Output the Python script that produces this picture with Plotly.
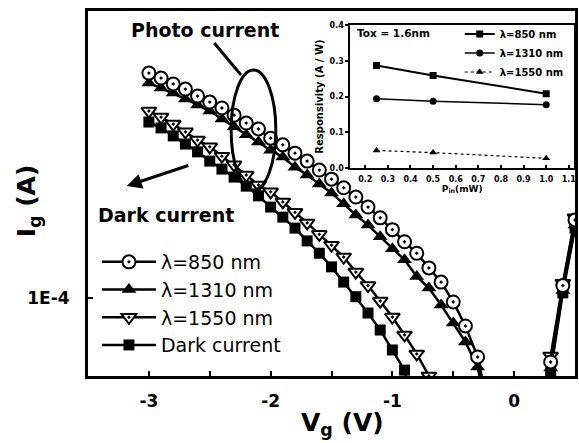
import plotly.graph_objects as go

# ---------------- main plot data (gate current vs gate voltage) ----------------
V_850 = [-3.0, -2.9, -2.8, -2.7, -2.6, -2.5, -2.4, -2.3, -2.2, -2.1, -2.0, -1.9, -1.8, -1.7,
         -1.6, -1.5, -1.4, -1.3, -1.2, -1.1, -1.0, -0.9, -0.8, -0.7, -0.6, -0.5, -0.4, -0.3,
         -0.2, 0.2, 0.3, 0.4, 0.5]
I_850 = [5.62e-4, 5.41e-4, 5.17e-4, 4.97e-4, 4.71e-4, 4.50e-4, 4.30e-4, 4.07e-4, 3.83e-4, 3.66e-4,
         3.41e-4, 3.24e-4, 3.04e-4, 2.86e-4, 2.67e-4, 2.49e-4, 2.33e-4, 2.17e-4, 2.01e-4, 1.85e-4,
         1.69e-4, 1.54e-4, 1.41e-4, 1.26e-4, 1.13e-4, 9.70e-5, 8.07e-5, 6.36e-5,
         4.1e-5, 3.0e-5, 6.12e-5, 1.10e-4, 1.82e-4]

V_1310 = V_850
I_1310 = [5.21e-4, 5.01e-4, 4.82e-4, 4.61e-4, 4.40e-4, 4.20e-4, 3.95e-4, 3.72e-4, 3.50e-4, 3.31e-4,
          3.11e-4, 2.95e-4, 2.73e-4, 2.57e-4, 2.40e-4, 2.24e-4, 2.06e-4, 1.89e-4, 1.75e-4, 1.60e-4,
          1.46e-4, 1.34e-4, 1.18e-4, 1.08e-4, 9.48e-5, 8.25e-5, 7.14e-5, 5.89e-5,
          3.8e-5, 3.0e-5, 5.84e-5, 1.06e-4, 1.75e-4]

V_1550 = [-3.0, -2.9, -2.8, -2.7, -2.6, -2.5, -2.4, -2.3, -2.2, -2.1, -2.0, -1.9, -1.8, -1.7,
          -1.6, -1.5, -1.4, -1.3, -1.2, -1.1, -1.0, -0.9, -0.8, -0.7, -0.6, 0.2, 0.3, 0.4, 0.5]
I_1550 = [4.20e-4, 4.01e-4, 3.80e-4, 3.58e-4, 3.36e-4, 3.19e-4, 2.97e-4, 2.78e-4, 2.57e-4, 2.38e-4,
          2.26e-4, 2.09e-4, 1.93e-4, 1.78e-4, 1.63e-4, 1.50e-4, 1.37e-4, 1.22e-4, 1.10e-4, 9.77e-5,
          8.64e-5, 7.53e-5, 6.51e-5, 5.50e-5, 3.5e-5, 3.0e-5, 6.41e-5, 1.12e-4, 1.85e-4]

V_dark = [-3.0, -2.9, -2.8, -2.7, -2.6, -2.5, -2.4, -2.3, -2.2, -2.1, -2.0, -1.9, -1.8, -1.7,
          -1.6, -1.5, -1.4, -1.3, -1.2, -1.1, -1.0, -0.9, -0.8, 0.2, 0.3, 0.4, 0.5]
I_dark = [3.86e-4, 3.69e-4, 3.47e-4, 3.26e-4, 3.07e-4, 2.86e-4, 2.69e-4, 2.53e-4, 2.36e-4, 2.19e-4,
          2.01e-4, 1.86e-4, 1.71e-4, 1.55e-4, 1.41e-4, 1.27e-4, 1.13e-4, 1.01e-4, 8.91e-5, 7.82e-5,
          6.71e-5, 5.75e-5, 3.5e-5, 3.0e-5, 5.67e-5, 1.04e-4, 1.71e-4]

# ---------------- inset data (responsivity vs optical power) ----------------
P_in = [0.25, 0.5, 1.0]
R_850 = [0.287, 0.259, 0.208]
R_1310 = [0.194, 0.187, 0.177]
R_1550 = [0.049, 0.043, 0.027]

# ---------------- tick labels ----------------
x_tickvals = [-3, -2.5, -2, -1.5, -1, -0.5, 0]
x_ticktext = ["-3", "", "-2", "", "-1", "", "0"]
y_tickvals = [1e-4]
y_ticktext = ["1E-4"]
x2_tickvals = [0.2, 0.3, 0.4, 0.5, 0.6, 0.7, 0.8, 0.9, 1.0, 1.1]
x2_ticktext = ["0.2", "0.3", "0.4", "0.5", "0.6", "0.7", "0.8", "0.9", "1.0", "1.1"]
y2_tickvals = [0.0, 0.1, 0.2, 0.3, 0.4]
y2_ticktext = ["0.0", "0.1", "0.2", "0.3", "0.4"]

FONT = "DejaVu Sans"
fig = go.Figure()

# main traces (drawn dark first so open symbols sit on top)
fig.add_trace(go.Scatter(
    x=V_dark, y=I_dark, name="Dark current", mode="lines+markers", legendrank=4,
    line=dict(color="black", width=2.5),
    marker=dict(symbol="square", size=11, color="black")))
fig.add_trace(go.Scatter(
    x=V_1550, y=I_1550, name="λ=1550 nm", mode="lines+markers", legendrank=3,
    line=dict(color="black", width=2.5),
    marker=dict(symbol="triangle-down-dot", size=13, color="white",
                line=dict(color="black", width=2))))
fig.add_trace(go.Scatter(
    x=V_1310, y=I_1310, name="λ=1310 nm", mode="lines+markers", legendrank=2,
    line=dict(color="black", width=2.5),
    marker=dict(symbol="triangle-up", size=13, color="black")))
fig.add_trace(go.Scatter(
    x=V_850, y=I_850, name="λ=850 nm", mode="lines+markers", legendrank=1,
    line=dict(color="black", width=2.5),
    marker=dict(symbol="circle-dot", size=13, color="white",
                line=dict(color="black", width=2))))

# inset traces
fig.add_trace(go.Scatter(
    x=P_in, y=R_850, name="λ=850 nm", mode="lines+markers", xaxis="x2", yaxis="y2",
    legend="legend2", line=dict(color="black", width=2),
    marker=dict(symbol="square", size=7, color="black")))
fig.add_trace(go.Scatter(
    x=P_in, y=R_1310, name="λ=1310 nm", mode="lines+markers", xaxis="x2", yaxis="y2",
    legend="legend2", line=dict(color="black", width=1.5),
    marker=dict(symbol="circle", size=7, color="black")))
fig.add_trace(go.Scatter(
    x=P_in, y=R_1550, name="λ=1550 nm", mode="lines+markers", xaxis="x2", yaxis="y2",
    legend="legend2", line=dict(color="black", width=1.2, dash="dot"),
    marker=dict(symbol="triangle-up", size=7, color="black")))

fig.update_layout(
    width=579, height=443,
    margin=dict(l=88, r=1, t=11, b=67),
    paper_bgcolor="white", plot_bgcolor="white",
    font=dict(family=FONT, color="black"),
    showlegend=True,
    xaxis=dict(range=[-3.5, 0.5], tickvals=x_tickvals, ticktext=x_ticktext,
               ticks="inside", ticklen=5, tickwidth=2, tickcolor="black",
               showline=True, linewidth=3, linecolor="black", mirror=True,
               showgrid=False, zeroline=False, ticklabelstandoff=8,
               tickfont=dict(family=FONT, size=17, weight="bold")),
    yaxis=dict(type="log", range=[-4.26, -3.0433], tickvals=y_tickvals, ticktext=y_ticktext,
               ticks="inside", ticklen=5, tickwidth=2, tickcolor="black",
               showline=True, linewidth=3, linecolor="black", mirror=True,
               showgrid=False, zeroline=False, ticklabelstandoff=12,
               tickfont=dict(family=FONT, size=17, weight="bold")),
    xaxis2=dict(domain=[0.5388, 0.998], anchor="y2", range=[0.1344, 1.123],
                tickvals=x2_tickvals, ticktext=x2_ticktext,
                ticks="inside", ticklen=3, tickwidth=1.5, tickcolor="black",
                showline=True, linewidth=2, linecolor="black", mirror=True,
                showgrid=False, zeroline=False, ticklabelstandoff=2,
                tickfont=dict(family=FONT, size=8, weight="bold"),
                title=dict(text="P<sub>in</sub>(mW)", standoff=2,
                           font=dict(family=FONT, size=9, weight="bold"))),
    yaxis2=dict(domain=[0.5699, 0.9616], anchor="x2", range=[0, 0.4],
                tickvals=y2_tickvals, ticktext=y2_ticktext,
                ticks="outside", ticklen=3, tickwidth=1.5, tickcolor="black",
                showline=True, linewidth=2, linecolor="black", mirror=True,
                showgrid=False, zeroline=False,
                tickfont=dict(family=FONT, size=8, weight="bold"),
                title=dict(text="Responsivity (A / W)", standoff=4,
                           font=dict(family=FONT, size=10, weight="bold"))),
    legend=dict(x=0.0184, y=0.3644, xanchor="left", yanchor="top",
                font=dict(family=FONT, size=19), itemwidth=54,
                bgcolor="rgba(0,0,0,0)", borderwidth=0, tracegroupgap=0),
    legend2=dict(x=0.7633, y=0.9767, xanchor="left", yanchor="top",
                 font=dict(family=FONT, size=10, weight="bold"), itemwidth=30,
                 bgcolor="rgba(0,0,0,0)", borderwidth=0, tracegroupgap=0),
)

# annotations: labels, titles, arrows
def label(text, x, y, size, angle=0):
    fig.add_annotation(text=text, xref="paper", yref="paper", x=x, y=y,
                       xanchor="center", yanchor="middle", textangle=angle,
                       showarrow=False, font=dict(family=FONT, size=size, weight="bold"))

label("Photo current", 0.2408, 0.9479, 19)
label("Dark current", 0.1602, 0.4411, 19)
label("Tox = 1.6nm", 0.6276, 0.9397, 10.5)
label("I<sub>g</sub> (A)", -0.1224, 0.4795, 25, angle=-90)
label("V<sub>g</sub> (V)", 0.5224, -0.1315, 25)

fig.add_annotation(text="", xref="paper", yref="paper", x=0.0796, y=0.5205,
                   ax=63, ay=-21, showarrow=True, arrowhead=2, arrowwidth=3,
                   arrowsize=1, arrowcolor="black")

fig.add_shape(type="circle", xref="paper", yref="paper",
              x0=0.2939, x1=0.3857, y0=0.5096, y1=0.8384,
              line=dict(color="black", width=3))
fig.add_shape(type="line", xref="paper", yref="paper",
              x0=0.2592, y0=0.9123, x1=0.3143, y1=0.8247,
              line=dict(color="black", width=3))

fig.write_html("out.html")
